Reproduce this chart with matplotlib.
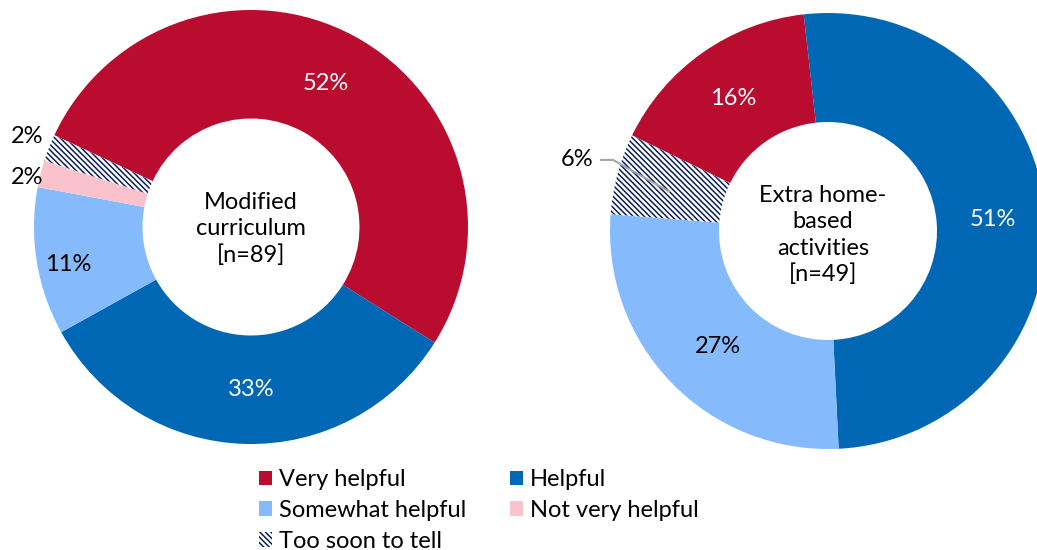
import matplotlib
matplotlib.use("Agg")
import matplotlib.pyplot as plt
from matplotlib.patches import Patch

plt.rcParams['font.family'] = ['Lato', 'DejaVu Sans']
plt.rcParams['hatch.color'] = '#0B1F5C'
plt.rcParams['hatch.linewidth'] = 1.1

categories = ["Very helpful", "Helpful", "Somewhat helpful", "Not very helpful", "Too soon to tell"]
colors = ["#BA0C2F", "#0067B5", "#85BBFD", "#F9C2CC", "white"]
hatches = [None, None, None, None, "\\\\\\\\\\\\"]

curriculum_values = [52, 33, 11, 2, 2]
home_values = [16, 51, 27, 0, 6]
curriculum_title = "Modified\ncurriculum\n[n=89]"
home_title = "Extra home-\nbased\nactivities\n[n=49]"

W, H = 1037, 550
fig = plt.figure(figsize=(W / 100, H / 100), dpi=100)


def donut_axes(cx, cy, r):
    return fig.add_axes([(cx - r) / W, (H - cy - r) / H, 2 * r / W, 2 * r / H])


def draw_donut(ax, values, start):
    wedges, _ = ax.pie(values, colors=colors, startangle=start, counterclock=False,
                       radius=1.0, wedgeprops=dict(width=0.5, linewidth=0))
    for w, h in zip(wedges, hatches):
        if h:
            w.set_hatch(h)
            w.set_edgecolor('#0B1F5C')
            w.set_linewidth(0)
    ax.set_xlim(-1, 1)
    ax.set_ylim(-1, 1)
    ax.set_aspect('equal')
    ax.axis('off')
    return wedges


lab = dict(fontsize=17, ha='center', va='center')

# Left donut: modified curriculum
axL = donut_axes(251, 227, 217)
draw_donut(axL, curriculum_values, 155)
axL.text(0, -0.01, curriculum_title, ha='center', va='center', fontsize=17, linespacing=1.3)
axL.text(0.346, 0.659, f"{curriculum_values[0]}%", color='white', **lab)
axL.text(0.0, -0.747, f"{curriculum_values[1]}%", color='white', **lab)
axL.text(-0.843, -0.175, f"{curriculum_values[2]}%", color='black', **lab)
axL.text(-1.03, 0.226, f"{curriculum_values[3]}%", color='black', **lab)
axL.text(-1.03, 0.415, f"{curriculum_values[4]}%", color='black', **lab)

# Right donut: extra home-based activities
axR = donut_axes(828, 231, 218)
draw_donut(axR, home_values, 154)
axR.text(-0.023, -0.02, home_title, ha='center', va='center', fontsize=17, linespacing=1.3)
axR.text(-0.436, 0.606, f"{home_values[0]}%", color='white', **lab)
axR.text(0.757, 0.055, f"{home_values[1]}%", color='white', **lab)
axR.text(-0.505, -0.532, f"{home_values[2]}%", color='black', **lab)
axR.text(-1.15, 0.326, f"{home_values[4]}%", color='black', **lab)
axR.plot([-1.046, -0.986, -0.725], [0.326, 0.326, 0.179], color='#A6A6A6', lw=1.5,
         solid_capstyle='butt', clip_on=False)

# Shared legend
handles = []
for c, h, n in zip(colors, hatches, categories):
    if h:
        handles.append(Patch(facecolor='white', edgecolor='#0B1F5C', hatch=h, linewidth=0, label=n))
    else:
        handles.append(Patch(facecolor=c, edgecolor='none', label=n))
order = [0, 2, 4, 1, 3]
fig.legend([handles[i] for i in order], [categories[i] for i in order], ncol=2,
           loc='upper left', bbox_to_anchor=(259 / W, 1 - 469 / H), frameon=False,
           fontsize=17, handlelength=0.55, handleheight=0.55, handletextpad=0.3,
           columnspacing=1.85, labelspacing=0.42, borderaxespad=0, borderpad=0)

fig.savefig("out.png", dpi=100)
